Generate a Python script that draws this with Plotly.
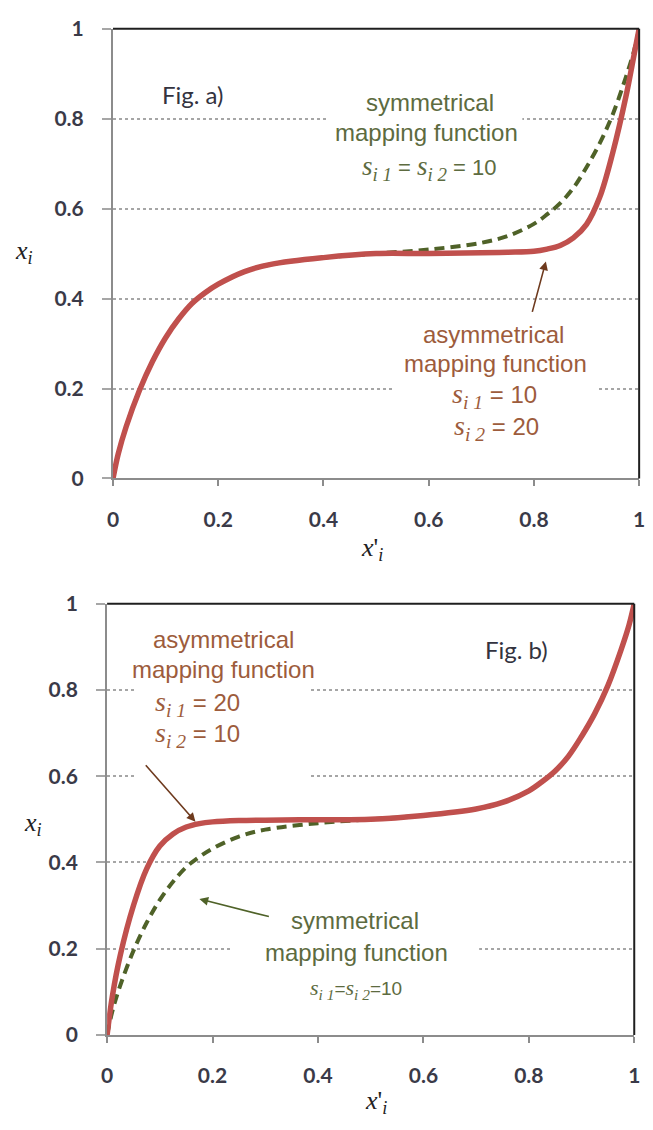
import plotly.graph_objects as go

# ---------------- data ----------------
x_prime = [0, 0.01, 0.025, 0.05, 0.075, 0.1, 0.125, 0.15, 0.175, 0.2, 0.25, 0.3, 0.4, 0.5,
           0.6, 0.7, 0.75, 0.8, 0.825, 0.85, 0.875, 0.9, 0.925, 0.95, 0.975, 0.99, 1.0]

# Fig. a) symmetrical mapping function s_i1 = s_i2 = 10
sym_a = [0, 0.055, 0.115, 0.195, 0.26, 0.313, 0.355, 0.389, 0.413, 0.432, 0.46, 0.476, 0.491, 0.5,
         0.509, 0.524, 0.539, 0.566, 0.587, 0.612, 0.646, 0.692, 0.745, 0.81, 0.893, 0.95, 1.0]
# Fig. a) asymmetrical mapping function s_i1 = 10, s_i2 = 20
asym_a = [0, 0.055, 0.115, 0.195, 0.26, 0.313, 0.355, 0.389, 0.413, 0.432, 0.46, 0.476, 0.491, 0.5,
          0.5, 0.502, 0.503, 0.505, 0.51, 0.518, 0.535, 0.565, 0.625, 0.725, 0.85, 0.94, 1.0]
# Fig. b) symmetrical mapping function s_i1 = s_i2 = 10
sym_b = [0, 0.055, 0.115, 0.195, 0.26, 0.313, 0.355, 0.389, 0.413, 0.432, 0.46, 0.476, 0.491, 0.5,
         0.509, 0.524, 0.539, 0.566, 0.587, 0.612, 0.646, 0.692, 0.745, 0.81, 0.893, 0.95, 1.0]
# Fig. b) asymmetrical mapping function s_i1 = 20, s_i2 = 10
asym_b = [0, 0.09, 0.185, 0.3, 0.385, 0.438, 0.466, 0.482, 0.49, 0.494, 0.497, 0.498, 0.499, 0.5,
          0.509, 0.524, 0.539, 0.566, 0.587, 0.612, 0.646, 0.692, 0.745, 0.81, 0.893, 0.95, 1.0]

tick_vals = [0, 0.2, 0.4, 0.6, 0.8, 1]
tick_text = ["0", "0.2", "0.4", "0.6", "0.8", "1"]

# ---------------- layout helpers ----------------
W, H = 653, 1130


def px(x, y):
    return x / W, 1 - y / H


GREEN = "#4f6228"
RED = "#c0504d"
TXT_GREEN = "#5d6b40"
TXT_BROWN = "#9d5c3c"
ARROW_BROWN = "#6e3a1e"
AXIS_GRAY = "#8c8c8c"
GRID_GRAY = "#a6a6a6"
TICK_FONT = dict(family="Lato", size=21, color="#3a3a48", weight="bold")

fig = go.Figure()

for xa, ya, s, a in [("x", "y", sym_a, asym_a), ("x2", "y2", sym_b, asym_b)]:
    fig.add_trace(go.Scatter(x=x_prime, y=s, mode="lines", xaxis=xa, yaxis=ya,
                             line=dict(color=GREEN, width=4, dash="10px,6px",
                                       shape="spline", smoothing=1.0),
                             hoverinfo="skip"))
    fig.add_trace(go.Scatter(x=x_prime, y=a, mode="lines", xaxis=xa, yaxis=ya,
                             line=dict(color=RED, width=5.5, shape="spline", smoothing=1.0),
                             hoverinfo="skip"))

xcommon = dict(range=[0, 1], tickvals=tick_vals, ticktext=tick_text, ticks="outside",
               ticklen=6, tickwidth=1.5, tickcolor=AXIS_GRAY, showline=True,
               linecolor=AXIS_GRAY, linewidth=2, showgrid=False, zeroline=False,
               tickfont=TICK_FONT, ticklabelstandoff=15, fixedrange=True)
ycommon = dict(range=[0, 1], tickvals=tick_vals, ticktext=tick_text, ticks="outside",
               ticklen=9, tickwidth=1.5, tickcolor=GRID_GRAY, showline=True,
               linecolor=AXIS_GRAY, linewidth=2, showgrid=True, gridcolor=GRID_GRAY,
               griddash="dot", gridwidth=1.5, zeroline=False, tickfont=TICK_FONT,
               ticklabelstandoff=14, fixedrange=True)

fig.update_layout(
    width=W, height=H, margin=dict(l=0, r=0, t=0, b=0),
    paper_bgcolor="white", plot_bgcolor="white", showlegend=False,
    xaxis=dict(domain=[109 / W, 645 / W], anchor="y", **xcommon),
    yaxis=dict(domain=[1 - 475 / H, 1 - 15 / H], anchor="x", **ycommon),
    xaxis2=dict(domain=[103 / W, 640 / W], anchor="y2", **xcommon),
    yaxis2=dict(domain=[1 - 1044 / H, 1 - 603 / H], anchor="x2", **ycommon),
)

shapes = []
# dark top/right frame
for xr, yr in [("x domain", "y domain"), ("x2 domain", "y2 domain")]:
    shapes.append(dict(type="line", xref=xr, yref=yr, x0=0, x1=1, y0=1, y1=1,
                       line=dict(color="#1f1f1f", width=2)))
    shapes.append(dict(type="line", xref=xr, yref=yr, x0=1, x1=1, y0=0, y1=1,
                       line=dict(color="#1f1f1f", width=2)))
# white text-box backgrounds that interrupt the gridlines
for (x0, y0, x1, y1) in [(328, 72, 526, 180), (395, 308, 603, 445),
                         (133, 620, 310, 788), (230, 908, 482, 1015)]:
    a0, b0 = px(x0, y1)
    a1, b1 = px(x1, y0)
    shapes.append(dict(type="rect", xref="paper", yref="paper", x0=a0, x1=a1, y0=b0, y1=b1,
                       fillcolor="white", line=dict(width=0), layer="above"))
fig.update_layout(shapes=shapes)


def s_sub(k, size):
    return (f"<span style=\"font-family:'Liberation Serif';font-size:{size}px\">"
            f"<i>s</i><sub><i>i {k}</i></sub></span>")


def note(x, y, text, color, size, family="Liberation Sans", xanchor="center", weight="normal"):
    xx, yy = px(x, y)
    fig.add_annotation(x=xx, y=yy, xref="paper", yref="paper", text=text, showarrow=False,
                       xanchor=xanchor, yanchor="middle",
                       font=dict(family=family, size=size, color=color, weight=weight))


def arrow(hx, hy, tx, ty, color):
    xx, yy = px(hx, hy)
    fig.add_annotation(x=xx, y=yy, xref="paper", yref="paper", text="", showarrow=True,
                       ax=tx - hx, ay=ty - hy, arrowhead=2, arrowsize=1.1, arrowwidth=1.6,
                       arrowcolor=color, standoff=0)


# ---- Fig. a)
note(191, 82, "Fig. a)", "#33333f", 24, family="Lato")
note(432, 90, "symmetrical", TXT_GREEN, 24)
note(428, 121, "mapping function", TXT_GREEN, 24)
note(431, 157, f"{s_sub(1, 27)} = {s_sub(2, 27)} = 10", TXT_GREEN, 22)
note(497, 328, "asymmetrical", TXT_BROWN, 24)
note(499, 357, "mapping function", TXT_BROWN, 24)
note(498, 390, f"{s_sub(1, 28)} = 10", TXT_BROWN, 24)
note(500, 423, f"{s_sub(2, 28)} = 20", TXT_BROWN, 24)
arrow(550, 253, 536, 305, ARROW_BROWN)
note(373, 547, "<i>x</i>'<sub><i>i</i></sub>", "#222222", 26, family="Liberation Serif")
note(18, 243, "<i>x</i><sub><i>i</i></sub>", "#222222", 26, family="Liberation Serif")

# ---- Fig. b)
note(520, 650, "Fig. b)", "#33333f", 24, family="Lato")
note(222, 640, "asymmetrical", TXT_BROWN, 24)
note(222, 670, "mapping function", TXT_BROWN, 24)
note(150, 705, f"{s_sub(1, 28)} = 20", TXT_BROWN, 24, xanchor="left")
note(150, 737, f"{s_sub(2, 28)} = 10", TXT_BROWN, 24, xanchor="left")
arrow(193, 826, 142, 768, ARROW_BROWN)
note(356, 927, "symmetrical", TXT_GREEN, 24)
note(357, 960, "mapping function", TXT_GREEN, 24)
note(357, 997, f"{s_sub(1, 22)}={s_sub(2, 22)}=10", TXT_GREEN, 19)
arrow(197, 905, 268, 923, GREEN)
note(377, 1113, "<i>x</i>'<sub><i>i</i></sub>", "#222222", 26, family="Liberation Serif")
note(28, 828, "<i>x</i><sub><i>i</i></sub>", "#222222", 26, family="Liberation Serif")

fig.write_html("out.html")
